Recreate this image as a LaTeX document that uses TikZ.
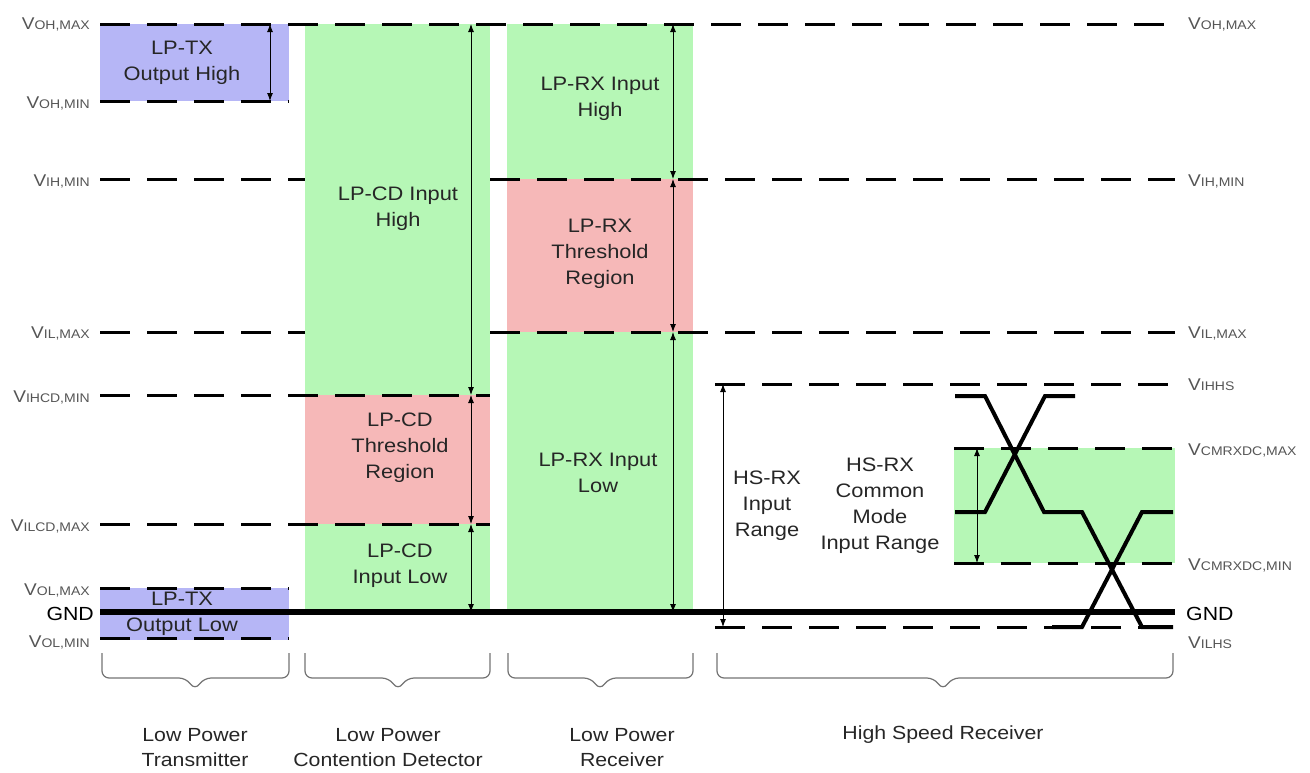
\documentclass[tikz,border=0pt]{standalone}
\usepackage{fontspec}
\setmainfont[FakeStretch=1.12]{Liberation Sans}
\usetikzlibrary{arrows.meta}
\definecolor{lpgreen}{RGB}{182,247,182}
\definecolor{lpred}{RGB}{246,184,184}
\definecolor{lpblue}{RGB}{182,182,246}
\definecolor{labgray}{RGB}{85,85,85}
\definecolor{bracegray}{RGB}{115,115,115}
\newcommand{\vname}[1]{V{\fontsize{12.5}{12.5}\selectfont #1}}
\tikzset{
  lvline/.style={line width=3pt,dash pattern=on 30pt off 17pt},
  gnd/.style={line width=5.5pt},
  spanarrow/.style={{Latex[length=8pt,width=6pt]}-{Latex[length=8pt,width=6pt]},line width=0.9pt},
  lab/.style={text=labgray,font=\fontsize{17}{17}\selectfont,inner sep=0pt},
  region/.style={align=center,font=\fontsize{19.5}{26}\selectfont,text=black!85},
  sig/.style={line width=4pt},
  grp/.style={draw=bracegray,line width=1.2pt,rounded corners=7pt},
}
\begin{document}
\begin{tikzpicture}[x=1pt,y=-1pt]
\useasboundingbox (0,0) rectangle (1310,772);
% colour regions
\fill[lpblue] (100,24) rectangle (289,101);
\fill[lpblue] (100,588) rectangle (289,640);
\fill[lpgreen] (305,24) rectangle (490,612);
\fill[lpred] (305,395) rectangle (490,524);
\fill[lpgreen] (507,24) rectangle (693,612);
\fill[lpred] (507,179) rectangle (693,332);
\fill[lpgreen] (954,448) rectangle (1175,563);
% levels
\draw[lvline] (100,24) -- (1175,24);
\draw[lvline] (100,101) -- (289,101);
\draw[lvline] (100,179) -- (305,179);
\draw[lvline] (490,179) -- (1175,179);
\draw[lvline] (100,332) -- (305,332);
\draw[lvline] (490,332) -- (1175,332);
\draw[lvline] (100,395) -- (490,395);
\draw[lvline] (100,524) -- (490,524);
\draw[lvline] (100,588) -- (289,588);
\draw[lvline] (100,638) -- (289,638);
\draw[lvline] (715,384) -- (1175,384);
\draw[lvline] (954,448) -- (1175,448);
\draw[lvline] (954,563) -- (1175,563);
\draw[lvline] (715,627) -- (1175,627);
\draw[gnd] (100,612) -- (1175,612);
% left labels
\node[lab,anchor=east] (lOHmax) at (90,24) {\vname{OH,MAX}};
\node[lab,anchor=east] (lOHmin) at (90,103) {\vname{OH,MIN}};
\node[lab,anchor=east] (lIHmin) at (90,181) {\vname{IH,MIN}};
\node[lab,anchor=east] (lILmax) at (90,333) {\vname{IL,MAX}};
\node[lab,anchor=east] (lIHCDmin) at (90,397) {\vname{IHCD,MIN}};
\node[lab,anchor=east] (lILCDmax) at (90,526) {\vname{ILCD,MAX}};
\node[lab,anchor=east] (lOLmax) at (90,590) {\vname{OL,MAX}};
\node[lab,anchor=east,text=black,font=\fontsize{19}{19}\selectfont] (lGND) at (94,614) {GND};
\node[lab,anchor=east] (lOLmin) at (90,642) {\vname{OL,MIN}};
% right labels
\node[lab,anchor=west] (rOHmax) at (1188,24) {\vname{OH,MAX}};
\node[lab,anchor=west] (rIHmin) at (1188,181) {\vname{IH,MIN}};
\node[lab,anchor=west] (rILmax) at (1188,333) {\vname{IL,MAX}};
\node[lab,anchor=west] (rIHHS) at (1188,385) {\vname{IHHS}};
\node[lab,anchor=west] (rCMmax) at (1188,450) {\vname{CMRXDC,MAX}};
\node[lab,anchor=west] (rCMmin) at (1188,565) {\vname{CMRXDC,MIN}};
\node[lab,anchor=west,text=black,font=\fontsize{19}{19}\selectfont] (rGND) at (1186,614) {GND};
\node[lab,anchor=west] (rILHS) at (1188,643) {\vname{ILHS}};
% range arrows
\coordinate (tx1) at (270,24);
\coordinate (tx2) at (270,101);
\coordinate (cd1) at (471,24);
\coordinate (cd2) at (471,395);
\coordinate (cd3) at (471,524);
\coordinate (cd4) at (471,612);
\coordinate (rx1) at (673,24);
\coordinate (rx2) at (673,179);
\coordinate (rx3) at (673,332);
\coordinate (rx4) at (673,612);
\coordinate (hs1) at (723,384);
\coordinate (hs2) at (723,627);
\coordinate (cm1) at (977,448);
\coordinate (cm2) at (977,563);
\foreach \a/\b in {tx1/tx2,cd1/cd2,cd2/cd3,cd3/cd4,rx1/rx2,rx2/rx3,rx3/rx4,hs1/hs2,cm1/cm2}
  \draw[spanarrow] (\a) -- (\b);
% region texts
\node[region] (txHigh) at (182,63) {LP-TX\\Output High};
\node[region] (txLow) at (182,614) {LP-TX\\Output Low};
\node[region] (cdHigh) at (398,209) {LP-CD Input\\High};
\node[region] (cdThr) at (400,448) {LP-CD\\Threshold\\Region};
\node[region] (cdLow) at (400,566) {LP-CD\\Input Low};
\node[region] (rxHigh) at (600,99) {LP-RX Input\\High};
\node[region] (rxThr) at (600,254) {LP-RX\\Threshold\\Region};
\node[region] (rxLow) at (598,473) {LP-RX Input\\Low};
\node[region] (hsRange) at (767,506) {HS-RX\\Input\\Range};
\node[region] (hsCM) at (880,506) {HS-RX\\Common\\Mode\\Input Range};
% differential signals
\draw[sig] (955,396) -- (985,396) -- (1044,512) -- (1082,512) -- (1142,627) -- (1173,627);
\draw[sig] (955,512) -- (985,512) -- (1045,396) -- (1075,396);
\draw[sig] (1052,627) -- (1082,627) -- (1142,512) -- (1173,512);
% group braces
\draw[grp] (102,653) -- (102,678) -- (186,678) -- (195,690) -- (204,678) -- (289,678) -- (289,653);
\draw[grp] (305,653) -- (305,678) -- (389,678) -- (398,690) -- (407,678) -- (490,678) -- (490,653);
\draw[grp] (508,653) -- (508,678) -- (591,678) -- (600,690) -- (609,678) -- (693,678) -- (693,653);
\draw[grp] (717,653) -- (717,678) -- (934,678) -- (943,690) -- (952,678) -- (1173,678) -- (1173,653);
\node[region,font=\fontsize{19}{25}\selectfont] (grpTX) at (195,748) {Low Power\\Transmitter};
\node[region,font=\fontsize{19}{25}\selectfont] (grpCD) at (388,748) {Low Power\\Contention Detector};
\node[region,font=\fontsize{19}{25}\selectfont] (grpRX) at (622,748) {Low Power\\Receiver};
\node[region,font=\fontsize{19}{25}\selectfont] (grpHS) at (943,735) {High Speed Receiver};
\end{tikzpicture}
\end{document}
